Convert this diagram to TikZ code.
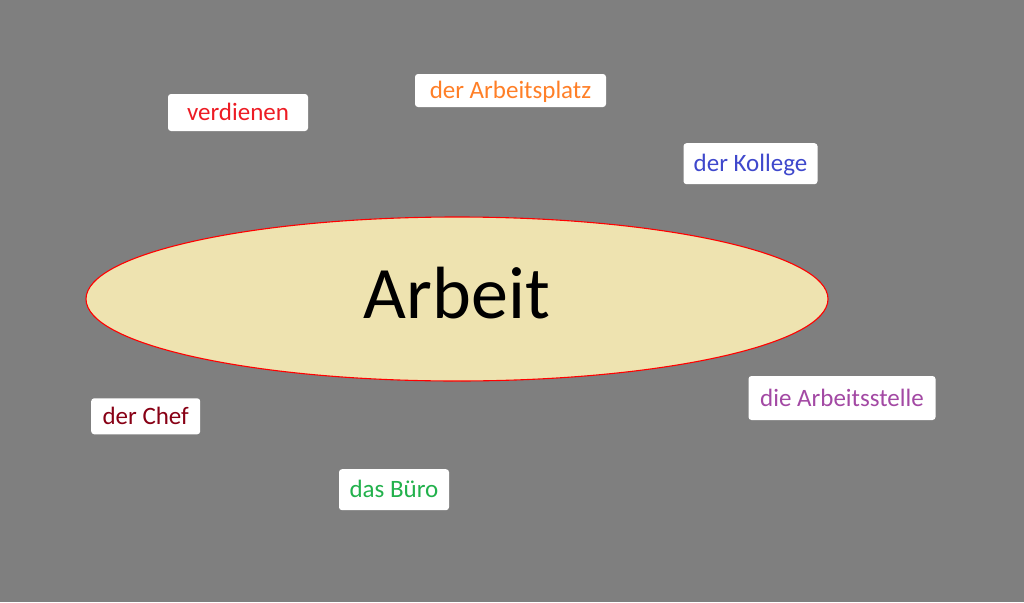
\documentclass[tikz,border=0pt]{standalone}
\usepackage{fontspec}
\setmainfont{Carlito}
\usetikzlibrary{shapes.geometric}
\definecolor{slidegray}{HTML}{7F7F7F}
\definecolor{topicfill}{HTML}{EEE3B0}
\definecolor{wordred}{HTML}{ED1C24}
\definecolor{wordorange}{HTML}{FF7F27}
\definecolor{wordblue}{HTML}{3F48CC}
\definecolor{wordpurple}{HTML}{A349A4}
\definecolor{wordmaroon}{HTML}{880015}
\definecolor{wordgreen}{HTML}{22B14C}
\tikzset{
  topic/.style={ellipse,draw=red,line width=1.1pt,fill=topicfill,inner sep=0pt,
                minimum width=742pt,minimum height=164pt,
                font=\fontsize{74}{80}\selectfont,text height=39pt,text depth=0pt},
  card/.style 2 args={fill=white,rounded corners=3pt,inner sep=0pt,
                minimum width=#1pt,minimum height=#2pt,
                font=\fontsize{25}{28}\selectfont,text height=16pt,text depth=0pt}
}

\begin{document}
\begin{tikzpicture}[x=1pt,y=-1pt]
  % BACKGROUND
  \fill[slidegray] (0,0) rectangle (1024,602);
  \useasboundingbox (0,0) rectangle (1024,602);

  % TOPIC
  \node[topic] (arbeit) at (457,299) {Arbeit};

  % WORDS
  \node[card={140}{37},text=wordred]    (verdienen) at (238,112.5) {verdienen};
  \node[card={191}{33},text=wordorange] (platz)     at (510.5,90.5) {der Arbeitsplatz};
  \node[card={134}{41},text=wordblue]   (kollege)   at (750.5,163.7) {der Kollege};
  \node[card={187}{44},text=wordpurple] (stelle)    at (842,398) {die Arbeitsstelle};
  \node[card={109}{36},text=wordmaroon] (chef)      at (145.7,416.3) {der Chef};
  \node[card={110}{41},text=wordgreen]  (buero)     at (394,489.7) {das Büro};
\end{tikzpicture}
\end{document}
